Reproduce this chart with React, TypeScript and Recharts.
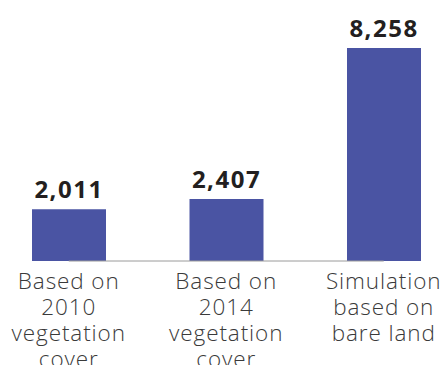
import { BarChart, Bar, XAxis, YAxis, LabelList, ReferenceLine } from 'recharts'

const categories = [
  'Based on\n2010\nvegetation\ncover',
  'Based on\n2014\nvegetation\ncover',
  'Simulation\nbased on\nbare land'
]
const values = [2011, 2407, 8258]

const data = categories.map((name, i) => ({ name, value: values[i] }))

const BAR_COLOR = '#4a54a3'

const MultiLineTick = (props: any) => {
  const { x, y, payload } = props
  const lines = String(payload.value).split('\n')
  return (
    <text
      x={x}
      y={y}
      textAnchor="middle"
      fill="#3a3a3a"
      fontFamily="'Open Sans', sans-serif"
      fontSize={22.5}
      fontWeight={300}
      letterSpacing={0.9}
    >
      {lines.map((line, i) => (
        <tspan key={i} x={x} y={y + 28 + i * 26}>
          {line}
        </tspan>
      ))}
    </text>
  )
}

export default function App() {
  return (
    <div style={{ position: 'absolute', left: 0, top: 0, width: 440, height: 365, overflow: 'hidden', background: '#fff' }}>
      <BarChart
        width={440}
        height={365}
        data={data}
        margin={{ top: 48, right: -22.5, left: -10, bottom: 0 }}
        barSize={74}
      >
        <XAxis
          dataKey="name"
          axisLine={false}
          tickLine={false}
          tickSize={0}
          tickMargin={0}
          interval={0}
          height={104}
          tick={<MultiLineTick />}
        />
        <YAxis hide domain={[0, 8258]} />
        <ReferenceLine
          segment={[
            { x: categories[0], y: 0 },
            { x: categories[2], y: 0 }
          ]}
          stroke="#9a9a9a"
          strokeWidth={1}
        />
        <Bar dataKey="value" fill={BAR_COLOR} isAnimationActive={false}>
          <LabelList
            dataKey="value"
            position="top"
            offset={11}
            formatter={(v: any) => Number(v).toLocaleString('en-US')}
            fill="#231f20"
            fontFamily="'Open Sans', sans-serif"
            fontSize={24}
            fontWeight={700}
            letterSpacing={1.5}
          />
        </Bar>
      </BarChart>
    </div>
  )
}
